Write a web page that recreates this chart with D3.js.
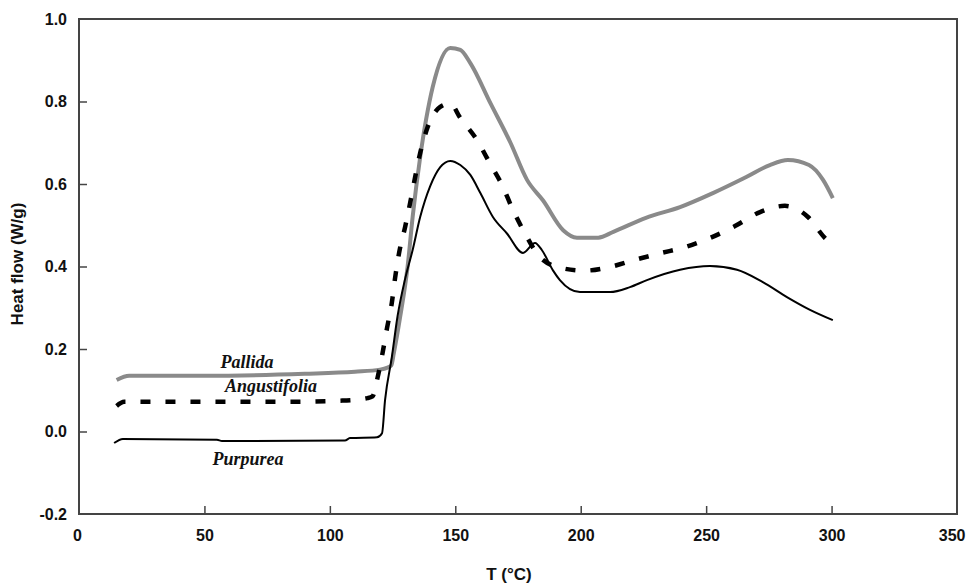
<!DOCTYPE html>
<html>
<head>
<meta charset="utf-8">
<script src="https://cdn.jsdelivr.net/npm/d3@7"></script>
<style>
  body { margin: 0; background: #fff; }
  .axis text { font-family: 'Liberation Sans', Arial, sans-serif; font-weight: bold; font-size: 16px; fill: #111; }
  .axis path { display: none; }
  .axis line { stroke: #444; stroke-width: 1.5; }
  .title { font-family: 'Liberation Sans', Arial, sans-serif; font-weight: bold; font-size: 17px; fill: #111; }
  .name { font-family: 'Liberation Serif', 'Times New Roman', serif; font-weight: bold; font-style: italic; font-size: 18px; fill: #111; }
</style>
</head>
<body>
<div id="chart"></div>
<script>
// DSC curves, heat flow vs temperature

const width = 966
const height = 585
const margin = { top: 19, right: 9, bottom: 71, left: 79 }

const xTicks = [0, 50, 100, 150, 200, 250, 300, 350]
const yTicks = [-0.2, 0, 0.2, 0.4, 0.6, 0.8, 1.0]

// Pallida (grey)
const pallidaT = [15, 20, 50, 90, 110, 120, 123, 124.5, 125.5, 128, 131, 133, 136, 141, 148, 152, 156, 164, 172, 178.6, 185, 193, 198.5, 207, 213, 226, 239.6, 252.7, 266, 275.4, 282.6, 291, 296.6, 300.5]
const pallidaHF = [0.125, 0.135, 0.135, 0.14, 0.145, 0.15, 0.155, 0.16, 0.19, 0.277, 0.40, 0.52, 0.665, 0.835, 0.93, 0.925, 0.893, 0.796, 0.70, 0.61, 0.56, 0.488, 0.47, 0.47, 0.484, 0.518, 0.544, 0.578, 0.617, 0.646, 0.658, 0.646, 0.61, 0.566]

// Angustifolia (dashed)
const angustT = [15, 18, 40, 80, 105, 115, 117, 119, 121, 122.8, 124.7, 126, 127.6, 130, 132, 134, 136, 139, 144, 148, 152, 158.6, 163.8, 168.6, 173, 177.8, 183.7, 192.5, 201.7, 211.7, 221.6, 231.6, 241.6, 251.5, 261.5, 271.5, 281.4, 290.6, 297.4, 300]
const angustHF = [0.062, 0.072, 0.072, 0.072, 0.075, 0.081, 0.085, 0.13, 0.19, 0.251, 0.312, 0.372, 0.433, 0.496, 0.554, 0.617, 0.675, 0.738, 0.787, 0.795, 0.76, 0.707, 0.65, 0.598, 0.537, 0.48, 0.423, 0.396, 0.39, 0.399, 0.416, 0.432, 0.447, 0.469, 0.498, 0.532, 0.547, 0.52, 0.469, 0.455]

// Purpurea (solid black)
const purpT = [14, 17.5, 55, 57, 106, 108, 118.8, 120.8, 122, 124.7, 127, 130, 133, 136, 140, 144, 148, 152, 156, 160, 165, 170.6, 177, 181.8, 184.5, 189, 191.7, 199.7, 206.5, 211.7, 219.6, 226.4, 239.6, 251.5, 262.3, 272.6, 282.2, 291.4, 300.5]
const purpHF = [-0.028, -0.018, -0.02, -0.023, -0.022, -0.016, -0.014, -0.004, 0.076, 0.18, 0.28, 0.37, 0.44, 0.52, 0.595, 0.641, 0.656, 0.646, 0.622, 0.578, 0.52, 0.48, 0.433, 0.457, 0.44, 0.39, 0.367, 0.338, 0.338, 0.338, 0.35, 0.367, 0.392, 0.401, 0.392, 0.362, 0.326, 0.295, 0.27]

const seriesNames = ['Pallida', 'Angustifolia', 'Purpurea']
const nameT = [67, 76.5, 67.4]
const nameHF = [0.154, 0.096, -0.081]

const svg = d3.select('#chart').append('svg')
  .attr('width', width)
  .attr('height', height)

const w = width - margin.left - margin.right
const h = height - margin.top - margin.bottom
const g = svg.append('g').attr('transform', 'translate(' + margin.left + ',' + margin.top + ')')

const x = d3.scaleLinear().domain([0, 350]).range([0, w])
const y = d3.scaleLinear().domain([-0.2, 1.0]).range([h, 0])

const yFmt = d => d3.format('.1f')(d).replace('\u2212', '-')

// axes, ticks pointing inward
const xg = g.append('g')
  .attr('class', 'axis')
  .attr('transform', 'translate(0,' + h + ')')
  .call(d3.axisBottom(x).tickValues(xTicks).tickSizeInner(-8).tickSizeOuter(0).tickPadding(16).tickFormat(d3.format('d')))
xg.selectAll('line').filter(d => d === 0 || d === 350).remove()
xg.selectAll('text').filter(d => d === 350).attr('text-anchor', 'end').attr('dx', 8)
xg.selectAll('text').filter(d => d === 0).attr('dx', -2)

const yg = g.append('g')
  .attr('class', 'axis')
  .call(d3.axisLeft(y).tickValues(yTicks).tickSizeInner(-8).tickSizeOuter(0).tickPadding(12).tickFormat(yFmt))
yg.selectAll('line').filter(d => d === -0.2 || d === 1.0).remove()

// frame
g.append('rect')
  .attr('width', w)
  .attr('height', h)
  .attr('fill', 'none')
  .attr('stroke', '#444')
  .attr('stroke-width', 2)

const line = d3.line()
  .x(d => x(d[0]))
  .y(d => y(d[1]))
  .curve(d3.curveMonotoneX)

const zip = (a, b) => a.map((v, i) => [v, b[i]])

g.append('path')
  .datum(zip(pallidaT, pallidaHF))
  .attr('d', line)
  .attr('fill', 'none')
  .attr('stroke', '#8a8a8a')
  .attr('stroke-width', 4)

g.append('path')
  .datum(zip(angustT, angustHF))
  .attr('d', line)
  .attr('fill', 'none')
  .attr('stroke', '#000')
  .attr('stroke-width', 4.5)
  .attr('stroke-dasharray', '10,15')

g.append('path')
  .datum(zip(purpT, purpHF))
  .attr('d', line)
  .attr('fill', 'none')
  .attr('stroke', '#000')
  .attr('stroke-width', 2)

// series names
g.selectAll('text.name')
  .data(seriesNames)
  .join('text')
  .attr('class', 'name')
  .attr('text-anchor', 'middle')
  .attr('x', (d, i) => x(nameT[i]))
  .attr('y', (d, i) => y(nameHF[i]))
  .text(d => d)

// axis titles
svg.append('text')
  .attr('class', 'title')
  .attr('text-anchor', 'middle')
  .attr('x', 509)
  .attr('y', 580)
  .text('T (°C)')

svg.append('text')
  .attr('class', 'title')
  .attr('text-anchor', 'middle')
  .attr('transform', 'rotate(-90)')
  .attr('x', -264)
  .attr('y', 23)
  .text('Heat flow (W/g)')
</script>
</body>
</html>
